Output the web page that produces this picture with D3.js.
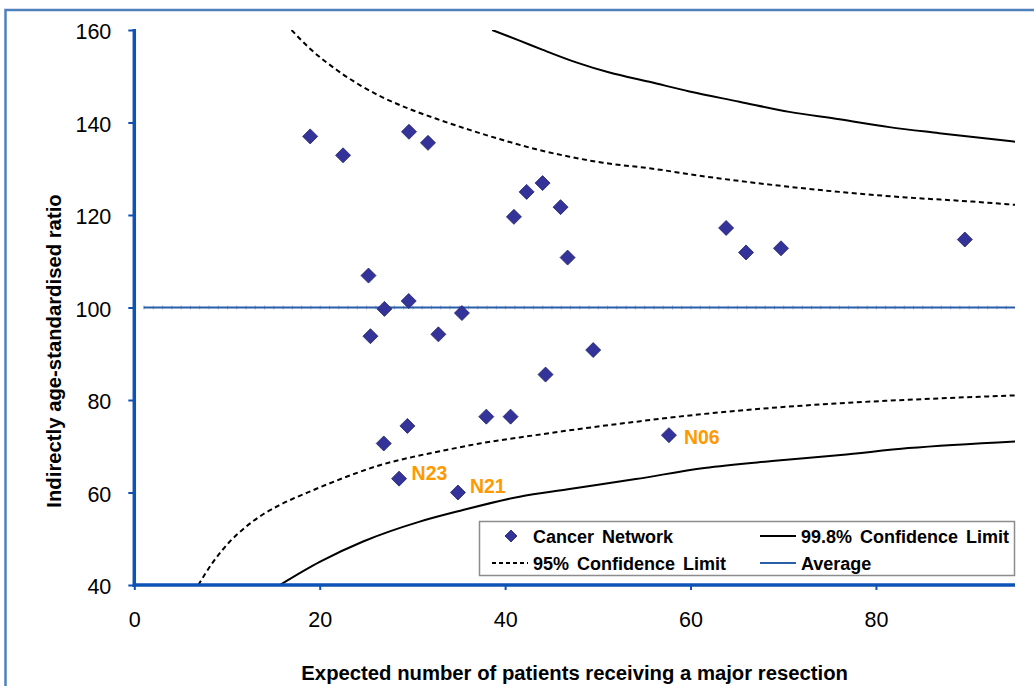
<!DOCTYPE html>
<html>
<head>
<meta charset="utf-8">
<script src="https://cdn.jsdelivr.net/npm/d3@7"></script>
<style>
  html, body { margin: 0; padding: 0; background: #fff; }
  svg { display: block; font-family: "Liberation Sans", Arial, sans-serif; }
</style>
</head>
<body>
<svg id="chart" width="1034" height="686"></svg>
<script>
// ---- Data ----
const networkX = [18.97, 22.52, 29.63, 31.68, 25.26, 25.47, 26.98, 29.60, 32.80, 35.34,
                  26.91, 29.46, 28.56, 34.91, 37.97, 40.59, 40.95, 42.32, 44.04, 45.98,
                  46.74, 44.36, 49.50, 57.67, 63.84, 65.99, 69.76, 89.59];
const networkY = [137.0, 132.9, 138.0, 135.6, 106.9, 93.8, 99.7, 101.4, 94.2, 98.8,
                  70.6, 74.4, 63.0, 60.0, 76.4, 76.4, 119.6, 125.0, 126.9, 121.7,
                  110.8, 85.5, 90.8, 72.4, 117.2, 111.9, 112.8, 114.7];
const labelNames  = ["N23", "N21", "N06"];
const labelIndex  = [12, 13, 23];

const upper95X = [16.96, 18.93, 21.81, 24.32, 26.83, 29.71, 32.59, 36.17, 39.76, 43.36, 46.95, 50.54, 55.58, 61.68, 68.86, 76.04, 83.23, 90.41, 95.0];
const upper95Y = [160.0, 156.0, 151.4, 148.1, 145.4, 142.9, 140.8, 138.4, 136.2, 134.2, 132.6, 131.3, 130.1, 128.3, 126.5, 125.0, 123.8, 122.9, 122.2];
const lower95X = [6.9, 8.51, 10.31, 12.11, 13.9, 15.70, 19.29, 22.89, 26.48, 30.06, 33.66, 37.25, 41.56, 46.77, 54.1, 61.5, 68.8, 76.2, 83.5, 95.0];
const lower95Y = [40.0, 45.0, 49.4, 52.7, 55.3, 57.3, 60.5, 63.4, 65.9, 67.7, 69.2, 70.6, 71.9, 73.4, 75.3, 77.0, 78.3, 79.3, 80.05, 81.0];
const upper998X = [38.6, 41.56, 44.07, 47.67, 51.26, 55.57, 59.88, 65.27, 70.66, 76.05, 81.44, 86.82, 95.0];
const upper998Y = [160.0, 157.7, 155.7, 153.0, 150.8, 148.8, 146.7, 144.5, 142.3, 140.7, 139.0, 137.7, 135.85];
const lower998X = [15.7, 20.0, 24.68, 30.79, 35.45, 41.56, 46.77, 54.1, 61.5, 68.8, 76.2, 83.5, 95.0];
const lower998Y = [40.0, 45.0, 49.4, 53.7, 56.2, 59.1, 60.7, 62.9, 65.3, 66.8, 68.1, 69.6, 71.05];
const averageX = [1, 95];
const averageY = [100, 100];

const xTicks = [0, 20, 40, 60, 80];
const yTicks = [40, 60, 80, 100, 120, 140, 160];
const xTitle = "Expected number of patients receiving a major resection";
const yTitle = "Indirectly age-standardised ratio";
const legendNames = ["Cancer Network", "95% Confidence Limit", "99.8% Confidence Limit", "Average"];

// ---- Layout ----
const svg = d3.select("#chart");
const pL = 134.3, pR = 1015, pT = 30, pB = 585;
const x = d3.scaleLinear().domain([0, 95]).range([pL, pR]);
const y = d3.scaleLinear().domain([40, 160]).range([pB, pT]);
const axisColor = "#0D52B5";
const avgColor = "#2A5FA8";
const fontFam = '"Liberation Sans", Arial, sans-serif';

// outer border
svg.append("rect").attr("x", 5.5).attr("y", 10).attr("width", 1040).attr("height", 700)
  .attr("fill", "none").attr("stroke", "#4F81BD").attr("stroke-width", 2.5);

svg.append("defs").append("clipPath").attr("id", "plotclip")
  .append("rect").attr("x", pL).attr("y", pT).attr("width", pR - pL).attr("height", pB - pT);

const plot = svg.append("g").attr("clip-path", "url(#plotclip)");
const line = d3.line().x(d => x(d[0])).y(d => y(d[1]));
const smooth = d3.line().curve(d3.curveMonotoneX).x(d => x(d[0])).y(d => y(d[1]));
const zip = (a, b) => a.map((v, i) => [v, b[i]]);

// average line
plot.append("path").attr("d", line(zip(averageX, averageY)))
  .attr("fill", "none").attr("stroke", avgColor).attr("stroke-width", 2);
plot.append("path").attr("d", line(zip(averageX, averageY)))
  .attr("fill", "none").attr("stroke", avgColor).attr("stroke-width", 4).attr("stroke-opacity", 0.45)
  .attr("stroke-dasharray", `1,${x(1) - x(0) - 1}`);

// confidence limits
[[upper95X, upper95Y, "5,3.5"], [lower95X, lower95Y, "5,3.5"],
 [upper998X, upper998Y, null], [lower998X, lower998Y, null]].forEach(([xs, ys, dash]) => {
  const p = plot.append("path").attr("d", smooth(zip(xs, ys)))
    .attr("fill", "none").attr("stroke", "#000").attr("stroke-width", 2);
  if (dash) p.attr("stroke-dasharray", dash);
});

// diamonds
const diamond = r => `M0,${-r}L${r},0L0,${r}L${-r},0Z`;
svg.append("g").selectAll("path").data(zip(networkX, networkY)).join("path")
  .attr("d", diamond(7.5))
  .attr("transform", d => `translate(${x(d[0])},${y(d[1])})`)
  .attr("fill", "#333399").attr("stroke", "#22226a").attr("stroke-width", 0.8);

// point labels
const labelOffsets = [[12.5, 1.5], [12, 0.5], [15, 8.5]];
svg.append("g").selectAll("text").data(labelIndex).join("text")
  .attr("x", (d, i) => x(networkX[d]) + labelOffsets[i][0])
  .attr("y", (d, i) => y(networkY[d]) + labelOffsets[i][1])
  .attr("fill", "#FF9900").attr("font-weight", "bold").attr("font-size", 19.5)
  .text((d, i) => labelNames[i]);

// axes
const yAxis = svg.append("g").attr("transform", `translate(${pL},0)`)
  .call(d3.axisLeft(y).tickValues(yTicks).tickSize(6).tickSizeOuter(0).tickPadding(17));
const xAxis = svg.append("g").attr("transform", `translate(0,${pB})`)
  .call(d3.axisBottom(x).tickValues(xTicks).tickSize(5).tickSizeOuter(0).tickPadding(22));
[yAxis, xAxis].forEach(g => {
  g.select(".domain").remove();
  g.selectAll(".tick line").attr("stroke", axisColor).attr("stroke-width", 2);
  g.selectAll(".tick text").attr("fill", "#000").attr("font-size", 21.5).attr("font-family", fontFam);
});
yAxis.selectAll(".tick text").attr("dy", "0.4em");
xAxis.selectAll(".tick text").attr("dy", "0.71em");
svg.append("line").attr("x1", pL).attr("x2", pL).attr("y1", pT - 1).attr("y2", pB + 2)
  .attr("stroke", axisColor).attr("stroke-width", 3.5);
svg.append("line").attr("x1", pL - 1.5).attr("x2", pR).attr("y1", pB).attr("y2", pB)
  .attr("stroke", axisColor).attr("stroke-width", 3.5);

// titles
svg.append("text").attr("x", (pL + pR) / 2).attr("y", 680).attr("text-anchor", "middle")
  .attr("font-weight", "bold").attr("font-size", 20.3).text(xTitle);
svg.append("text").attr("transform", "translate(61,351) rotate(-90)").attr("text-anchor", "middle")
  .attr("font-weight", "bold").attr("font-size", 20.3).text(yTitle);

// legend
const lg = svg.append("g");
lg.append("rect").attr("x", 479.5).attr("y", 521.5).attr("width", 535).attr("height", 54)
  .attr("fill", "#fff").attr("stroke", "#8c8c8c").attr("stroke-width", 1.5);
const rows = [536, 563];
lg.append("path").attr("d", diamond(6)).attr("transform", `translate(511,${rows[0]})`)
  .attr("fill", "#333399").attr("stroke", "#22226a").attr("stroke-width", 0.8);
lg.append("line").attr("x1", 492).attr("x2", 528).attr("y1", rows[1]).attr("y2", rows[1])
  .attr("stroke", "#000").attr("stroke-width", 2).attr("stroke-dasharray", "4,3");
lg.append("line").attr("x1", 760).attr("x2", 796).attr("y1", rows[0]).attr("y2", rows[0])
  .attr("stroke", "#000").attr("stroke-width", 2);
lg.append("line").attr("x1", 760).attr("x2", 796).attr("y1", rows[1]).attr("y2", rows[1])
  .attr("stroke", avgColor).attr("stroke-width", 2);
const legPos = [[533, rows[0]], [533, rows[1]], [801, rows[0]], [801, rows[1]]];
lg.selectAll("text.lt").data(legendNames).join("text").attr("class", "lt")
  .attr("x", (d, i) => legPos[i][0]).attr("y", (d, i) => legPos[i][1] + 6.5)
  .attr("font-weight", "bold").attr("font-size", 18).attr("word-spacing", 3)
  .text(d => d);
</script>
</body>
</html>
